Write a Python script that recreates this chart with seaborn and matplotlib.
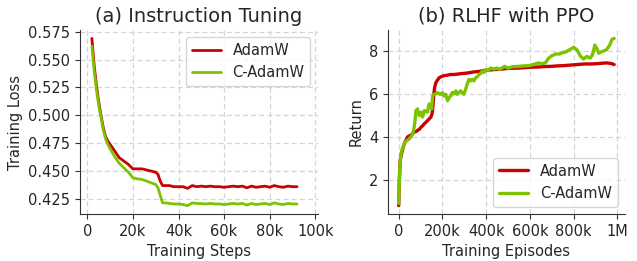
import numpy as np
import pandas as pd
import matplotlib
matplotlib.use("Agg")
import matplotlib.pyplot as plt
import seaborn as sns
from matplotlib.ticker import FuncFormatter

sns.set_style("ticks")
plt.rcParams['font.family'] = ['DejaVu Sans']

RED = "#cc0000"
GREEN = "#7dc400"

# (a) Instruction tuning: training steps (k) and loss
sft_steps = [2, 3, 4, 5, 6, 7, 8, 9, 10, 12, 14, 16, 18, 20, 22, 24, 26, 28, 30, 31,
             32, 33, 34, 36, 38, 40, 42, 44, 46, 48, 50, 52, 54, 56, 58, 60, 62, 64,
             66, 68, 70, 72, 74, 76, 78, 80, 82, 84, 86, 88, 90, 92]
sft_adamw = [0.569, 0.545, 0.527, 0.512, 0.500, 0.489, 0.481, 0.477, 0.474, 0.468,
             0.462, 0.459, 0.456, 0.452, 0.452, 0.452, 0.451, 0.450, 0.449, 0.447,
             0.441, 0.437, 0.437, 0.437, 0.436, 0.436, 0.436, 0.4345, 0.437, 0.436,
             0.4365, 0.436, 0.4365, 0.436, 0.436, 0.4355, 0.436, 0.4365, 0.436, 0.4365,
             0.435, 0.4365, 0.4355, 0.436, 0.4365, 0.4355, 0.437, 0.436, 0.4355, 0.4365,
             0.436, 0.436]
sft_cadamw = [0.562, 0.540, 0.523, 0.509, 0.498, 0.487, 0.479, 0.474, 0.470, 0.463,
              0.457, 0.453, 0.449, 0.444, 0.443, 0.4425, 0.441, 0.4395, 0.438, 0.435,
              0.428, 0.4215, 0.4215, 0.421, 0.4205, 0.4205, 0.420, 0.419, 0.4215, 0.421,
              0.4208, 0.4205, 0.421, 0.4205, 0.4205, 0.420, 0.4205, 0.421, 0.4205, 0.421,
              0.4195, 0.421, 0.420, 0.4205, 0.421, 0.420, 0.4215, 0.4205, 0.420, 0.421,
              0.4205, 0.4205]
sft_yticks = [0.425, 0.450, 0.475, 0.500, 0.525, 0.550, 0.575]

# (b) RLHF with PPO: episodes (k) and return
ppo_ep_adamw = [0, 3, 6, 10, 15, 20, 26, 33, 41, 50, 56, 64, 71, 80, 86, 95, 103, 110,
                117, 125, 132, 140, 147, 152, 156, 160, 164, 170, 178, 185, 195, 208,
                220, 235, 253, 270, 285, 298, 320, 344, 365, 390, 410, 435, 460, 496,
                520, 550, 580, 610, 640, 670, 700, 725, 750, 775, 800, 825, 850, 875,
                900, 925, 950, 965, 975, 985]
ppo_adamw = [0.8, 2.0, 2.8, 3.1, 3.3, 3.5, 3.69, 3.85, 4.0, 4.05, 4.08, 4.15, 4.23,
             4.25, 4.3, 4.36, 4.46, 4.52, 4.61, 4.68, 4.76, 4.84, 4.92, 5.05, 5.37,
             5.9, 6.29, 6.52, 6.65, 6.75, 6.8, 6.85, 6.86, 6.9, 6.9, 6.92, 6.94, 6.95,
             6.98, 7.02, 7.04, 7.08, 7.1, 7.13, 7.14, 7.18, 7.19, 7.2, 7.22, 7.24, 7.25,
             7.27, 7.28, 7.3, 7.31, 7.33, 7.35, 7.37, 7.39, 7.39, 7.4, 7.42, 7.44, 7.42,
             7.4, 7.36]
ppo_ep_cadamw = [0, 3, 6, 10, 15, 20, 26, 33, 41, 48, 56, 63, 71, 76, 79, 86, 90, 94,
                 98, 103, 109, 113, 117, 125, 132, 139, 143, 147, 151, 155, 162, 170,
                 177, 185, 192, 200, 208, 215, 223, 228, 230, 238, 245, 253, 261, 268,
                 275, 283, 290, 298, 306, 313, 321, 328, 336, 344, 352, 360, 367, 375,
                 382, 390, 397, 410, 420, 435, 450, 460, 475, 485, 500, 520, 550, 570,
                 596, 620, 640, 655, 670, 686, 700, 720, 735, 750, 765, 780, 790, 800,
                 808, 815, 830, 845, 860, 875, 885, 890, 897, 905, 915, 930, 950, 965,
                 975, 985]
ppo_cadamw = [0.9, 2.0, 2.8, 3.2, 3.4, 3.55, 3.69, 3.8, 3.85, 3.9, 4.0, 4.1, 4.46, 4.9,
              5.22, 5.3, 5.1, 4.99, 5.1, 5.15, 4.92, 5.05, 5.22, 5.18, 5.15, 5.53, 5.4,
              5.45, 5.3, 5.9, 5.98, 6.0, 6.06, 6.0, 5.98, 6.05, 5.9, 5.98, 5.68, 5.75,
              5.83, 5.9, 6.06, 6.0, 6.14, 5.98, 6.05, 6.14, 6.05, 5.98, 6.21, 6.45, 6.67,
              6.6, 6.67, 6.6, 6.75, 6.8, 6.9, 6.95, 7.05, 7.0, 7.13, 7.08, 7.2, 7.15, 7.2,
              7.13, 7.22, 7.28, 7.2, 7.26, 7.28, 7.3, 7.31, 7.38, 7.44, 7.4, 7.44, 7.66,
              7.77, 7.86, 7.85, 7.92, 7.95, 8.05, 8.1, 8.17, 8.1, 8.05, 7.77, 7.62, 7.74,
              7.66, 7.8, 7.97, 8.27, 8.12, 7.89, 7.97, 8.05, 8.27, 8.53, 8.58]


def k_fmt(v, pos):
    if v == 0:
        return "0"
    if v >= 1e6:
        return f"{v / 1e6:g}M"
    return f"{v / 1e3:g}k"


fig = plt.figure(figsize=(6.37, 2.61), dpi=100)
ax1 = fig.add_axes([0.1256, 0.18, 0.373, 0.705])
ax2 = fig.add_axes([0.609, 0.18, 0.372, 0.705])

# left panel
sns.lineplot(x=np.array(sft_steps) * 1000, y=sft_adamw, ax=ax1, color=RED,
             lw=2, label="AdamW")
sns.lineplot(x=np.array(sft_steps) * 1000, y=sft_cadamw, ax=ax1, color=GREEN,
             lw=2, label="C-AdamW")
ax1.set_xlim(-3200, 101000)
ax1.set_xticks([0, 20000, 40000, 60000, 80000, 100000])
ax1.set_yticks(sft_yticks)
ax1.set_yticklabels([f"{t:.3f}" for t in sft_yticks])
ax1.set_title("(a) Instruction Tuning", fontsize=14)
ax1.set_xlabel("Training Steps", fontsize=10.5)
ax1.set_ylabel("Training Loss", fontsize=10.5)
ax1.legend(loc="upper right", fontsize=10.5)

# right panel
sns.lineplot(x=np.array(ppo_ep_adamw) * 1000, y=ppo_adamw, ax=ax2, color=RED,
             lw=2.4, label="AdamW")
sns.lineplot(x=np.array(ppo_ep_cadamw) * 1000, y=ppo_cadamw, ax=ax2, color=GREEN,
             lw=2.4, label="C-AdamW")
ax2.set_xticks([0, 200000, 400000, 600000, 800000, 1000000])
ax2.set_yticks([2, 4, 6, 8])
ax2.set_title("(b) RLHF with PPO", fontsize=14)
ax2.set_xlabel("Training Episodes", fontsize=10.5)
ax2.set_ylabel("Return", fontsize=10.5)
ax2.legend(loc="lower right", fontsize=10.5)

for ax in (ax1, ax2):
    ax.xaxis.set_major_formatter(FuncFormatter(k_fmt))
    ax.tick_params(labelsize=10.5, color="#333333")
    ax.grid(True, color="#d5d5d5", lw=0.9, dashes=(4, 2.5))
    for s in ax.spines.values():
        s.set_color("#333333")
    sns.despine(ax=ax)

fig.savefig("out.png", dpi=100)
